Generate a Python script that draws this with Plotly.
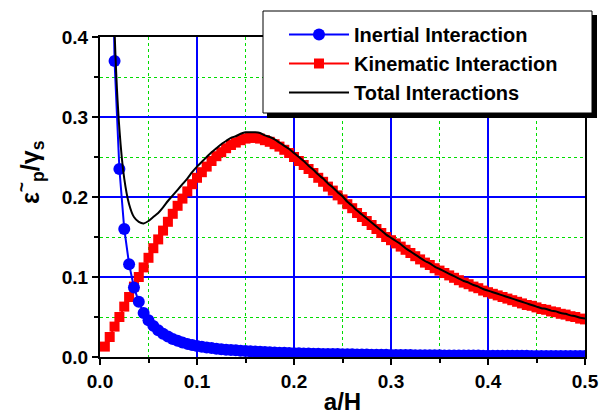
import plotly.graph_objects as go

# sample positions a/H (0.005 .. 0.500)
X = [round(0.005 * i, 3) for i in range(1, 101)]

INERTIAL = [
    2.1, 0.72, 0.370, 0.235, 0.160, 0.116, 0.087, 0.069, 0.055, 0.046,
    0.0389, 0.0334, 0.0291, 0.0255, 0.0226, 0.0202, 0.0182, 0.0164, 0.0150, 0.0137,
    0.0127, 0.0119, 0.0111, 0.0104, 0.0098, 0.0092, 0.0087, 0.0083, 0.0079, 0.0075,
    0.0071, 0.0068, 0.0065, 0.0062, 0.0059, 0.0057, 0.0054, 0.0052, 0.0050, 0.0048,
    0.0047, 0.0045, 0.0044, 0.0042, 0.0041, 0.0039, 0.0038, 0.0037, 0.0036, 0.0035,
    0.0034, 0.0033, 0.0032, 0.0031, 0.0030, 0.0029, 0.0028, 0.0028, 0.0027, 0.0026,
    0.0026, 0.0025, 0.0024, 0.0024, 0.0023, 0.0023, 0.0022, 0.0022, 0.0021, 0.0021,
    0.0020, 0.0020, 0.0019, 0.0019, 0.0019, 0.0018, 0.0018, 0.0018, 0.0017, 0.0017,
    0.0017, 0.0016, 0.0016, 0.0016, 0.0015, 0.0015, 0.0015, 0.0015, 0.0014, 0.0014,
    0.0014, 0.0014, 0.0013, 0.0013, 0.0013, 0.0013, 0.0013, 0.0012, 0.0012, 0.0012,
]

KINEMATIC = [
    0.013, 0.025, 0.038, 0.050, 0.063, 0.075, 0.088, 0.100, 0.112, 0.124,
    0.136, 0.147, 0.158, 0.169, 0.179, 0.189, 0.198, 0.207, 0.216, 0.224,
    0.231, 0.238, 0.245, 0.251, 0.256, 0.261, 0.265, 0.268, 0.271, 0.273,
    0.274, 0.274, 0.273, 0.271, 0.269, 0.266, 0.263, 0.259, 0.255, 0.250,
    0.245, 0.240, 0.235, 0.230, 0.224, 0.219, 0.213, 0.208, 0.202, 0.197,
    0.191, 0.186, 0.180, 0.175, 0.170, 0.165, 0.160, 0.155, 0.150, 0.146,
    0.142, 0.138, 0.134, 0.130, 0.126, 0.122, 0.118, 0.115, 0.111, 0.108,
    0.105, 0.102, 0.099, 0.096, 0.093, 0.091, 0.088, 0.086, 0.083, 0.081,
    0.079, 0.077, 0.075, 0.073, 0.071, 0.069, 0.067, 0.065, 0.064, 0.062,
    0.060, 0.059, 0.057, 0.056, 0.054, 0.053, 0.051, 0.050, 0.048, 0.047,
]

# total interactions, same grid starting at a/H = 0.010
X_TOTAL = X[1:]
TOTAL = [
    0.745, 0.408, 0.285, 0.223, 0.191, 0.175, 0.169, 0.167, 0.170,
    0.175, 0.180, 0.187, 0.195, 0.202, 0.209, 0.216, 0.223, 0.231, 0.238,
    0.244, 0.250, 0.256, 0.261, 0.266, 0.270, 0.274, 0.276, 0.279, 0.281,
    0.281, 0.281, 0.280, 0.277, 0.275, 0.272, 0.268, 0.264, 0.260, 0.255,
    0.250, 0.245, 0.239, 0.234, 0.228, 0.223, 0.217, 0.212, 0.206, 0.201,
    0.194, 0.189, 0.183, 0.178, 0.173, 0.168, 0.163, 0.158, 0.153, 0.149,
    0.145, 0.141, 0.136, 0.132, 0.128, 0.124, 0.120, 0.117, 0.113, 0.110,
    0.107, 0.104, 0.101, 0.098, 0.095, 0.093, 0.090, 0.088, 0.085, 0.083,
    0.081, 0.079, 0.077, 0.075, 0.073, 0.071, 0.069, 0.067, 0.065, 0.063,
    0.061, 0.060, 0.058, 0.057, 0.055, 0.054, 0.052, 0.051, 0.049, 0.048,
]

X_MAJOR = [0.0, 0.1, 0.2, 0.3, 0.4, 0.5]
Y_MAJOR = [0.0, 0.1, 0.2, 0.3, 0.4]
X_MINOR = [0.05, 0.15, 0.25, 0.35, 0.45]
Y_MINOR = [0.05, 0.15, 0.25, 0.35]

FONT = "Liberation Sans, Arial, sans-serif"
GRID_BLUE = "#0000FF"

fig = go.Figure()
fig.add_trace(go.Scatter(
    x=X, y=KINEMATIC, name="Kinematic Interaction", mode="lines+markers",
    line=dict(color="#FF0000", width=2),
    marker=dict(symbol="square", size=10, color="#FF0000"),
    legendrank=2, legendgroup="k",
))
fig.add_trace(go.Scatter(
    x=X, y=INERTIAL, name="Inertial Interaction", mode="lines+markers",
    line=dict(color="#0000FF", width=2),
    marker=dict(symbol="circle", size=12, color="#0000FF"),
    legendrank=1, legendgroup="i",
))
fig.add_trace(go.Scatter(
    x=X_TOTAL, y=TOTAL, name="Total Interactions", mode="lines",
    line=dict(color="#000000", width=2, shape="spline", smoothing=0.6),
    legendrank=3, legendgroup="t",
))

def axis_common(major_vals, minor_vals):
    return dict(
        showline=True, linecolor="#000000", linewidth=2, mirror=True,
        ticks="outside", ticklen=6, tickwidth=2, tickcolor="#000000",
        showgrid=True, gridcolor=GRID_BLUE, gridwidth=1.6,
        zeroline=False, automargin=False,
        tickfont=dict(family=FONT, size=19, color="#000000", weight="bold"),
        tickmode="array", tickvals=major_vals,
        ticktext=[f"{v:.1f}" for v in major_vals],
        minor=dict(tickmode="array", tickvals=minor_vals, ticks="outside", ticklen=4,
                   tickwidth=1.5, tickcolor="#000000",
                   showgrid=True, gridcolor="#00DD00", gridwidth=1, griddash="dot"),
    )

fig.update_xaxes(
    range=[0, 0.5],
    title=dict(text="a/H", font=dict(family=FONT, size=24, color="#000000", weight="bold"), standoff=4),
    **axis_common(X_MAJOR, X_MINOR),
)
fig.update_yaxes(range=[0, 0.4], **axis_common(Y_MAJOR, Y_MINOR))

# y-axis title
fig.add_annotation(
    text="ε<sup>~</sup><sub>p</sub>/γ<sub>s</sub>", textangle=-90,
    xref="paper", yref="paper", x=(30 - 100) / 485, y=(357 - 172) / 320,
    xanchor="center", yanchor="middle", showarrow=False,
    font=dict(family=FONT, size=25, color="#000000", weight="bold"),
)

# legend frame with drop shadow
fig.add_shape(type="rect", xref="paper", yref="paper",
              x0=(267 - 100) / 485, x1=(597 - 100) / 485,
              y0=(357 - 118) / 320, y1=(357 - 15) / 320,
              fillcolor="#000000", line=dict(width=0), layer="above")
fig.add_shape(type="rect", xref="paper", yref="paper",
              x0=(263 - 100) / 485, x1=(592 - 100) / 485,
              y0=(357 - 113) / 320, y1=(357 - 11) / 320,
              fillcolor="#FFFFFF", line=dict(color="#000000", width=1), layer="above")

fig.update_layout(
    width=613, height=415,
    margin=dict(l=100, r=28, t=37, b=58),
    paper_bgcolor="#FFFFFF", plot_bgcolor="#FFFFFF",
    showlegend=True,
    legend=dict(
        x=(284 - 100) / 485, y=(357 - 15) / 320, xanchor="left", yanchor="top",
        bgcolor="rgba(0,0,0,0)", borderwidth=0,
        font=dict(family=FONT, size=20, color="#000000", weight="bold"),
        tracegroupgap=0, itemwidth=60,
    ),
)

fig.write_html("out.html")
